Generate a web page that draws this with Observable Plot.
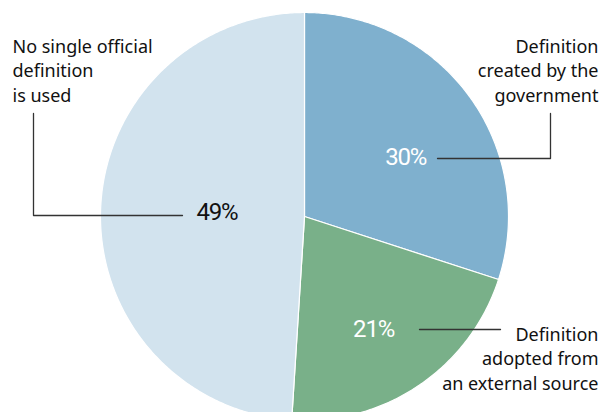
<!DOCTYPE html>
<html>
<head>
<meta charset="utf-8">
<script src="https://cdn.jsdelivr.net/npm/d3@7"></script>
<script src="https://cdn.jsdelivr.net/npm/@observablehq/plot@0.6"></script>
<style>
  html, body { margin: 0; padding: 0; background: #fff; overflow: hidden; }
  #chart svg { display: block; }
  .pct text { letter-spacing: -1.2px; }
</style>
</head>
<body>
<div id="chart"></div>
<script>
// ---- data ----
const categories = [
  "Definition\ncreated by the\ngovernment",
  "Definition\nadopted from\nan external source",
  "No single official\ndefinition\nis used"
];
const shares = [30, 21, 49];
const shareLabels = ["30%", "21%", "49%"];
const sliceColors = ["#7fb0ce", "#79b089", "#d2e3ee"];
const shareTextColors = ["#ffffff", "#ffffff", "#111111"];

// ---- layout (pixels relative to pie centre, y up) ----
const W = 608, H = 412;
const CX = 304, CY = 216, R = 204;
const labelPolar = [ {r: 0.575, da: 5.7}, {r: 0.65, da: 2.8}, {r: 0.43, da: 0.8} ];
const categoryPos = [
  {x: 598 - CX, y: CY - 101, anchor: "end"},
  {x: 598 - CX, y: CY - 389, anchor: "end"},
  {x: 12 - CX,  y: CY - 101, anchor: "start"}
];
const leaders = [
  [[437, 158], [550, 158], [550, 113]],
  [[419, 329], [500, 329]],
  [[182, 215], [33, 215], [33, 113]]
];

const table = categories.map((c, i) => ({category: c, share: shares[i], label: shareLabels[i], color: sliceColors[i], text: shareTextColors[i], i}));
const arcs = d3.pie().sort(null).value(d => d.share)(table);

// slice outlines sampled from pie angles
const slicePts = [];
arcs.forEach(a => {
  const n = Math.max(2, Math.ceil((a.endAngle - a.startAngle) / 0.01));
  slicePts.push({x: 0, y: 0, slice: a.data.i, color: a.data.color});
  for (let k = 0; k <= n; k++) {
    const t = a.startAngle + (a.endAngle - a.startAngle) * k / n;
    slicePts.push({x: R * Math.sin(t), y: R * Math.cos(t), slice: a.data.i, color: a.data.color});
  }
  slicePts.push({x: 0, y: 0, slice: a.data.i, color: a.data.color});
});

const pctPts = arcs.map(a => {
  const p = labelPolar[a.data.i];
  const mid = (a.startAngle + a.endAngle) / 2 + p.da * Math.PI / 180;
  return {x: p.r * R * Math.sin(mid), y: p.r * R * Math.cos(mid), label: a.data.label, text: a.data.text};
});

const catPts = table.map((d, i) => ({x: categoryPos[i].x, y: categoryPos[i].y, label: d.category, anchor: categoryPos[i].anchor}));

const leaderPts = [];
leaders.forEach((l, j) => l.forEach(([px, py]) => leaderPts.push({x: px - CX, y: CY - py, g: j})));

const plot = Plot.plot({
  width: W, height: H,
  margin: 0,
  x: {domain: [-CX, W - CX], axis: null},
  y: {domain: [CY - H, CY], axis: null},
  color: {type: "identity"},
  marks: [
    Plot.line(slicePts, {x: "x", y: "y", z: "slice", fill: "color", stroke: "#ffffff", strokeWidth: 1.2, strokeLinejoin: "round", curve: "linear"}),
    Plot.line(leaderPts, {x: "x", y: "y", z: "g", stroke: "#333333", strokeWidth: 1.3}),
    Plot.text(pctPts, {x: "x", y: "y", text: "label", fill: "text", fontSize: 24, lineAnchor: "middle", textAnchor: "middle",
      className: "pct", fontFamily: "Roboto, sans-serif"}),
    Plot.text(catPts.filter(d => d.anchor === "end"), {x: "x", y: "y", text: "label", fill: "#111", fontSize: 18, lineHeight: 1.36,
      lineAnchor: "bottom", textAnchor: "end", fontFamily: "'Noto Sans', sans-serif"}),
    Plot.text(catPts.filter(d => d.anchor === "start"), {x: "x", y: "y", text: "label", fill: "#111", fontSize: 18, lineHeight: 1.36,
      lineAnchor: "bottom", textAnchor: "start", fontFamily: "'Noto Sans', sans-serif"})
  ]
});
document.getElementById("chart").append(plot);
</script>
</body>
</html>
